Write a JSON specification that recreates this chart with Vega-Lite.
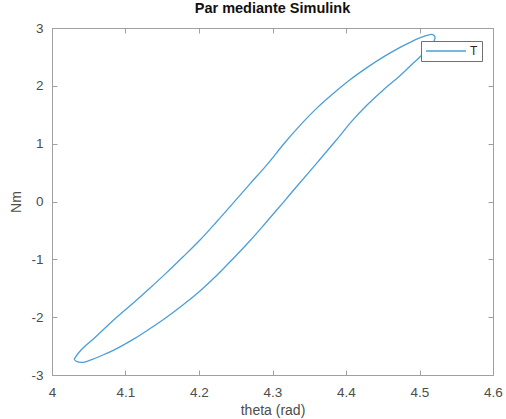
{
  "$schema": "https://vega.github.io/schema/vega-lite/v6.json",
  "width": 441,
  "height": 347,
  "autosize": {"type": "none"},
  "padding": {"left": 52, "top": 28, "right": 13, "bottom": 44},
  "background": "white",
  "config": {
    "view": {"stroke": "#a0a0a0", "strokeWidth": 1},
    "font": "Liberation Sans"
  },
  "title": {
    "text": "Par mediante Simulink",
    "font": "Liberation Sans",
    "fontSize": 14.5,
    "fontWeight": "bold",
    "color": "#111111",
    "anchor": "middle",
    "offset": 5
  },
  "data": {
    "values": [
      {"i": 1, "theta": 4.030, "T": -2.73},
      {"i": 2, "theta": 4.036, "T": -2.62},
      {"i": 3, "theta": 4.045, "T": -2.50},
      {"i": 4, "theta": 4.056, "T": -2.38},
      {"i": 5, "theta": 4.066, "T": -2.26},
      {"i": 6, "theta": 4.088, "T": -2.00},
      {"i": 7, "theta": 4.111, "T": -1.75},
      {"i": 8, "theta": 4.133, "T": -1.50},
      {"i": 9, "theta": 4.156, "T": -1.23},
      {"i": 10, "theta": 4.178, "T": -0.96},
      {"i": 11, "theta": 4.201, "T": -0.67},
      {"i": 12, "theta": 4.224, "T": -0.35},
      {"i": 13, "theta": 4.247, "T": -0.02},
      {"i": 14, "theta": 4.269, "T": 0.30},
      {"i": 15, "theta": 4.292, "T": 0.63},
      {"i": 16, "theta": 4.317, "T": 1.02},
      {"i": 17, "theta": 4.340, "T": 1.35},
      {"i": 18, "theta": 4.360, "T": 1.61},
      {"i": 19, "theta": 4.383, "T": 1.87},
      {"i": 20, "theta": 4.405, "T": 2.10},
      {"i": 21, "theta": 4.428, "T": 2.31},
      {"i": 22, "theta": 4.451, "T": 2.50},
      {"i": 23, "theta": 4.473, "T": 2.66},
      {"i": 24, "theta": 4.490, "T": 2.77},
      {"i": 25, "theta": 4.505, "T": 2.85},
      {"i": 26, "theta": 4.517, "T": 2.89},
      {"i": 27, "theta": 4.521, "T": 2.85},
      {"i": 28, "theta": 4.520, "T": 2.78},
      {"i": 29, "theta": 4.513, "T": 2.66},
      {"i": 30, "theta": 4.503, "T": 2.53},
      {"i": 31, "theta": 4.488, "T": 2.35},
      {"i": 32, "theta": 4.473, "T": 2.17},
      {"i": 33, "theta": 4.450, "T": 1.92},
      {"i": 34, "theta": 4.428, "T": 1.66},
      {"i": 35, "theta": 4.408, "T": 1.39},
      {"i": 36, "theta": 4.386, "T": 1.05},
      {"i": 37, "theta": 4.362, "T": 0.69},
      {"i": 38, "theta": 4.337, "T": 0.32},
      {"i": 39, "theta": 4.315, "T": -0.01},
      {"i": 40, "theta": 4.292, "T": -0.35},
      {"i": 41, "theta": 4.270, "T": -0.67},
      {"i": 42, "theta": 4.247, "T": -0.98},
      {"i": 43, "theta": 4.224, "T": -1.28},
      {"i": 44, "theta": 4.201, "T": -1.55},
      {"i": 45, "theta": 4.178, "T": -1.79},
      {"i": 46, "theta": 4.156, "T": -2.00},
      {"i": 47, "theta": 4.133, "T": -2.20},
      {"i": 48, "theta": 4.111, "T": -2.38},
      {"i": 49, "theta": 4.090, "T": -2.53},
      {"i": 50, "theta": 4.070, "T": -2.65},
      {"i": 51, "theta": 4.055, "T": -2.73},
      {"i": 52, "theta": 4.043, "T": -2.78},
      {"i": 53, "theta": 4.034, "T": -2.77},
      {"i": 54, "theta": 4.030, "T": -2.73}
    ]
  },
  "layer": [
    {
      "mark": {"type": "line", "strokeWidth": 1.3, "clip": false, "interpolate": "catmull-rom"},
      "encoding": {
        "x": {
          "field": "theta", "type": "quantitative",
          "scale": {"domain": [4, 4.6], "nice": false, "zero": false},
          "axis": {
            "orient": "bottom",
            "title": "theta (rad)",
            "values": [4, 4.1, 4.2, 4.3, 4.4, 4.5, 4.6],
            "labelExpr": "'' + datum.value",
            "grid": false,
            "tickSize": -5,
            "labelPadding": 15,
            "domainColor": "#a0a0a0",
            "tickColor": "#a0a0a0",
            "labelColor": "#4d4d4d",
            "labelFontSize": 13.5,
            "labelFont": "Liberation Sans",
            "titleFont": "Liberation Sans",
            "titleFontSize": 14,
            "titleFontWeight": "normal",
            "titleColor": "#4d4d4d",
            "titlePadding": 5,
            "labelFlush": false
          }
        },
        "y": {
          "field": "T", "type": "quantitative",
          "scale": {"domain": [-3, 3], "nice": false, "zero": false},
          "axis": {
            "orient": "left",
            "title": "Nm",
            "values": [-3, -2, -1, 0, 1, 2, 3],
            "labelExpr": "'' + datum.value",
            "grid": false,
            "tickSize": -5,
            "labelPadding": 14,
            "domainColor": "#a0a0a0",
            "tickColor": "#a0a0a0",
            "labelColor": "#4d4d4d",
            "labelFontSize": 13.5,
            "labelFont": "Liberation Sans",
            "titleFont": "Liberation Sans",
            "titleFontSize": 14,
            "titleFontWeight": "normal",
            "titleColor": "#4d4d4d",
            "titlePadding": 7,
            "labelFlush": false
          }
        },
        "order": {"field": "i", "type": "quantitative"},
        "color": {
          "datum": "T",
          "scale": {"range": ["#4b9fd8"]},
          "legend": {
            "orient": "none",
            "legendX": 369,
            "legendY": 13,
            "title": null,
            "symbolType": "M-1,0H7",
            "symbolSize": 100,
            "symbolStrokeWidth": 1.3,
            "labelFontSize": 12,
            "labelFont": "Liberation Sans",
            "labelColor": "#262626",
            "labelOffset": 33,
            "padding": 4,
            "fillColor": "white",
            "strokeColor": "#707070",
            "cornerRadius": 0
          }
        }
      }
    },
    {
      "mark": {"type": "line", "opacity": 0},
      "encoding": {
        "x": {
          "field": "theta", "type": "quantitative",
          "axis": {
            "orient": "top",
            "title": null,
            "values": [4, 4.1, 4.2, 4.3, 4.4, 4.5, 4.6],
            "labels": false,
            "grid": false,
            "tickSize": -5,
            "domainColor": "#a0a0a0",
            "tickColor": "#a0a0a0"
          }
        },
        "y": {
          "field": "T", "type": "quantitative",
          "axis": {
            "orient": "right",
            "title": null,
            "values": [-3, -2, -1, 0, 1, 2, 3],
            "labels": false,
            "grid": false,
            "tickSize": -5,
            "domainColor": "#a0a0a0",
            "tickColor": "#a0a0a0"
          }
        },
        "order": {"field": "i", "type": "quantitative"}
      }
    }
  ],
  "resolve": {"axis": {"x": "independent", "y": "independent"}}
}
